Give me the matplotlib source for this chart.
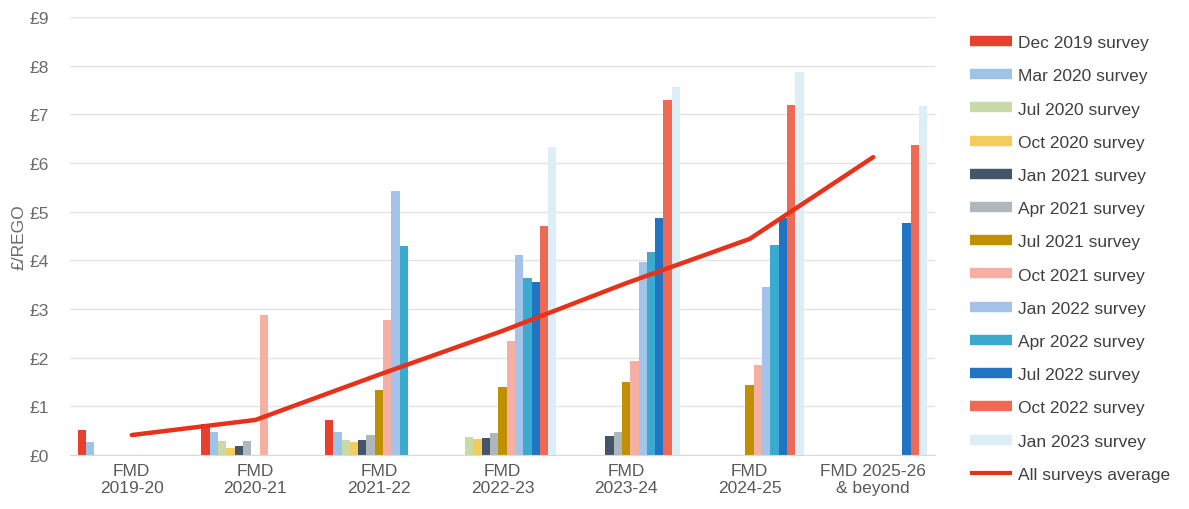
import matplotlib
matplotlib.use("Agg")
import matplotlib.pyplot as plt
from matplotlib.lines import Line2D
import numpy as np

plt.rcParams['font.family'] = ['Liberation Sans', 'DejaVu Sans']

groups = ["FMD\n2019-20", "FMD\n2020-21", "FMD\n2021-22", "FMD\n2022-23",
          "FMD\n2023-24", "FMD\n2024-25", "FMD 2025-26\n& beyond"]

series_names = ["Dec 2019 survey", "Mar 2020 survey", "Jul 2020 survey", "Oct 2020 survey",
                "Jan 2021 survey", "Apr 2021 survey", "Jul 2021 survey", "Oct 2021 survey",
                "Jan 2022 survey", "Apr 2022 survey", "Jul 2022 survey", "Oct 2022 survey",
                "Jan 2023 survey"]

nan = np.nan
dec_2019 = [0.52, 0.64, 0.72, nan, nan, nan, nan]
mar_2020 = [0.27, 0.47, 0.47, nan, nan, nan, nan]
jul_2020 = [nan, 0.29, 0.31, 0.36, nan, nan, nan]
oct_2020 = [nan, 0.15, 0.26, 0.33, nan, nan, nan]
jan_2021 = [nan, 0.18, 0.31, 0.35, 0.40, nan, nan]
apr_2021 = [nan, 0.29, 0.41, 0.45, 0.47, nan, nan]
jul_2021 = [nan, nan, 1.34, 1.40, 1.49, 1.44, nan]
oct_2021 = [nan, 2.88, 2.77, 2.34, 1.94, 1.85, nan]
jan_2022 = [nan, nan, 5.42, 4.11, 3.96, 3.46, nan]
apr_2022 = [nan, nan, 4.30, 3.63, 4.18, 4.32, nan]
jul_2022 = [nan, nan, nan, 3.56, 4.86, 4.86, 4.76]
oct_2022 = [nan, nan, nan, 4.70, 7.29, 7.19, 6.38]
jan_2023 = [nan, nan, nan, 6.32, 7.56, 7.88, 7.17]

average = [0.41, 0.72, 1.65, 2.55, 3.53, 4.44, 6.12]

series_values = [dec_2019, mar_2020, jul_2020, oct_2020, jan_2021, apr_2021, jul_2021,
                 oct_2021, jan_2022, apr_2022, jul_2022, oct_2022, jan_2023]

colors = ["#E8402A", "#9DC3E6", "#CAD9A8", "#F2CD5C", "#44546A", "#AEB8BC", "#BF9000",
          "#F5AFA3", "#A3C3EA", "#3AAACF", "#2173C4", "#EE6A55", "#DDEEF6"]
avg_color = "#E8311A"

fig = plt.figure(figsize=(11.89, 5.10), dpi=100)
ax = fig.add_axes([70/1189, 54/510, 865/1189, 438/510])

n = len(series_values)
w = 8.3 / 123.6
x = np.arange(len(groups))
for i, (vals, c) in enumerate(zip(series_values, colors)):
    ax.bar(x + (i - (n - 1) / 2) * w, np.nan_to_num(vals), width=w, color=c,
           linewidth=0, zorder=2)

ax.plot(x, average, color=avg_color, lw=3.2, zorder=3, solid_capstyle='round')

ax.set_xlim(-0.5, len(groups) - 0.5)
ax.set_ylim(0, 9)
ax.set_yticks(range(10))
ax.set_yticklabels([f"£{v}" for v in range(10)], color="#6A6A6A", fontsize=12.5)
ax.set_xticks(x)
ax.set_xticklabels(groups, color="#595959", fontsize=12.5, linespacing=1.15)
ax.tick_params(axis='both', length=0)
ax.tick_params(axis='y', pad=15)
ax.tick_params(axis='x', pad=6)
ax.grid(axis='y', color="#E3E3E3", lw=1, zorder=0)
for s in ["top", "right", "left"]:
    ax.spines[s].set_visible(False)
ax.spines["bottom"].set_color("#D9D9D9")
ax.set_axisbelow(True)
ax.set_ylabel("£/REGO", color="#6A6A6A", fontsize=12.5, labelpad=2)

handles = [Line2D([0], [0], color=c, lw=7.5, solid_capstyle='butt') for c in colors]
handles.append(Line2D([0], [0], color=avg_color, lw=3, solid_capstyle='butt'))
labels = series_names + ["All surveys average"]
leg = fig.legend(handles, labels, loc='upper left', bbox_to_anchor=(963/1189, 1 - 29/510),
                 frameon=False, fontsize=12.5, handlelength=2.4, handletextpad=0.35,
                 labelspacing=1.04, borderaxespad=0)
for t in leg.get_texts():
    t.set_color("#404040")

fig.savefig("out.png", dpi=100)
